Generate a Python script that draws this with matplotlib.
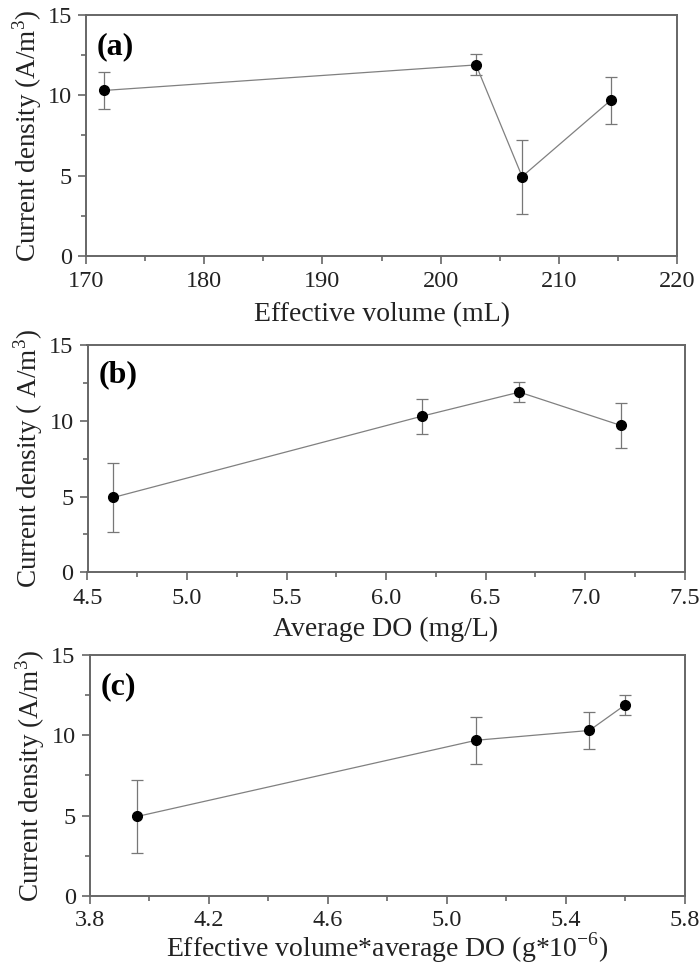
import numpy as np
import matplotlib.pyplot as plt
from matplotlib.ticker import AutoMinorLocator

plt.rcParams['font.family'] = ['Liberation Serif', 'DejaVu Serif']
plt.rcParams['mathtext.fontset'] = 'custom'
plt.rcParams['mathtext.rm'] = 'Liberation Serif'

# panel data
volume = [171.5, 203.0, 206.9, 214.4]
volume_cd = [10.3, 11.89, 4.94, 9.69]
volume_err = [1.15, 0.65, 2.3, 1.47]

do = [4.63, 6.18, 6.67, 7.18]
do_cd = [4.94, 10.3, 11.89, 9.69]
do_err = [2.3, 1.15, 0.65, 1.47]

vdo = [3.96, 5.10, 5.48, 5.60]
vdo_cd = [4.94, 9.69, 10.3, 11.89]
vdo_err = [2.3, 1.47, 1.15, 0.65]

fig = plt.figure(figsize=(7, 9.71), dpi=100)

panels = [
    dict(rect=[0.123, 0.7364, 0.844, 0.2482], x=volume, y=volume_cd, e=volume_err,
         xlim=(170, 220), xticks=np.arange(170, 221, 10), fmt='%d',
         xlabel='Effective volume (mL)', ylabel='Current density (A/m$^3$)', tag='(a)',
         pad=5, lpad=7),
    dict(rect=[0.125, 0.4106, 0.853, 0.2341], x=do, y=do_cd, e=do_err,
         xlim=(4.5, 7.5), xticks=np.arange(4.5, 7.51, 0.5), fmt='%.1f',
         xlabel='Average DO (mg/L)', ylabel='Current density ( A/m$^3$)', tag='(b)',
         pad=5, lpad=6),
    dict(rect=[0.128, 0.0775, 0.850, 0.2479], x=vdo, y=vdo_cd, e=vdo_err,
         xlim=(3.8, 5.8), xticks=np.arange(3.8, 5.81, 0.4), fmt='%.1f',
         xlabel='Effective volume*average DO (g*10$^{-6}$)', ylabel='Current density (A/m$^3$)', tag='(c)',
         pad=4, lpad=0),
]

grey = '#666666'
for p in panels:
    ax = fig.add_axes(p['rect'])
    ax.errorbar(p['x'], p['y'], yerr=p['e'], fmt='none', ecolor='#777777',
                elinewidth=0.9, capsize=4, capthick=0.9, zorder=2)
    ax.plot(p['x'], p['y'], '-', color='#808080', lw=0.9, zorder=3)
    ax.plot(p['x'], p['y'], 'o', color='black', ms=7, zorder=4)
    ax.set_xlim(*p['xlim'])
    ax.set_ylim(0, 15)
    ax.set_xticks(p['xticks'])
    ax.set_xticklabels([p['fmt'] % v for v in p['xticks']])
    ax.set_yticks([0, 5, 10, 15])
    ax.xaxis.set_minor_locator(AutoMinorLocator(2))
    ax.yaxis.set_minor_locator(AutoMinorLocator(2))
    for s in ax.spines.values():
        s.set_color(grey)
        s.set_linewidth(1.4)
    ax.tick_params(which='major', direction='out', length=6, width=1.2,
                   color=grey, labelsize=17.5, labelcolor='#222222', pad=p['pad'])
    ax.tick_params(axis='y', pad=4)
    ax.tick_params(which='minor', direction='out', length=3.5, width=1.2, color=grey)
    ax.set_xlabel(p['xlabel'], fontsize=20, color='#222222', labelpad=p['lpad'])
    ax.set_ylabel(p['ylabel'], fontsize=19.5, color='#222222', labelpad=3)
    ax.text(0.018, 0.87, p['tag'], transform=ax.transAxes, fontsize=23,
            fontweight='bold', va='center', ha='left', color='black')

fig.savefig('out.png', dpi=100)
